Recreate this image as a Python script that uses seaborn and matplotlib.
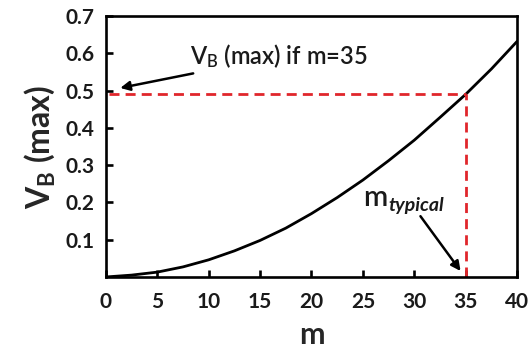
import matplotlib
matplotlib.use("Agg")
import matplotlib.pyplot as plt
import seaborn as sns
import pandas as pd

# Data
m_values = [0, 2.5, 5, 7.5, 10, 12.5, 15, 17.5, 20, 22.5, 25, 27.5, 30, 32.5, 35, 37.5, 40]
vb_max = [0.000, 0.005, 0.013, 0.027, 0.046, 0.070, 0.098, 0.131, 0.170, 0.213,
          0.260, 0.312, 0.367, 0.428, 0.490, 0.558, 0.632]
m_typical = 35
vb_at_typical = 0.490
x_ticks = [0, 5, 10, 15, 20, 25, 30, 35, 40]
y_ticks = [0.1, 0.2, 0.3, 0.4, 0.5, 0.6, 0.7]

sns.set_theme(style="ticks")
plt.rcParams['font.family'] = ['Lato', 'DejaVu Sans']
plt.rcParams['mathtext.fontset'] = 'custom'
plt.rcParams['mathtext.rm'] = 'Lato'
plt.rcParams['mathtext.it'] = 'Lato:italic'
plt.rcParams['mathtext.bf'] = 'Lato:bold'

df = pd.DataFrame({"m": m_values, "vb": vb_max})

fig = plt.figure(figsize=(5.32, 3.56), dpi=100)
ax = fig.add_axes([0.199, 0.222, 0.773, 0.733])

sns.lineplot(data=df, x="m", y="vb", ax=ax, color="black", linewidth=2.0)

red = "#e0262b"
ax.plot([0.3, m_typical], [vb_at_typical, vb_at_typical], color=red, lw=2.0,
        dashes=(3.6, 2.2))
ax.plot([m_typical, m_typical], [0, vb_at_typical], color=red, lw=2.0,
        dashes=(3.6, 2.2))

ax.set_xlim(0, 40)
ax.set_ylim(0, 0.7)
ax.set_xticks(x_ticks)
ax.set_xticklabels([str(t) for t in x_ticks])
ax.set_yticks(y_ticks)
ax.set_yticklabels([f"{t:.1f}" for t in y_ticks])

for s in ax.spines.values():
    s.set_visible(True)
    s.set_linewidth(1.9)
    s.set_color("black")

ax.tick_params(axis="both", direction="in", length=5, width=1.9, colors="black",
               labelsize=15, top=False, right=False)
ax.tick_params(axis="x", pad=11)
ax.tick_params(axis="y", pad=8)
for lbl in ax.get_xticklabels() + ax.get_yticklabels():
    lbl.set_fontweight("bold")
    lbl.set_color("#1a1a1a")

ax.set_xlabel("m", fontsize=22, fontweight="bold", labelpad=6)
ax.set_ylabel(r"V$_\mathregular{B}$ (max)", fontsize=23, fontweight="bold", labelpad=6)

# Annotation: V_B (max) if m=35
ax.annotate(r"V$_\mathregular{B}$ (max) if m=35", xy=(1.4, 0.507), xytext=(8.2, 0.592),
            fontsize=17, fontweight="semibold", va="center", ha="left", color="#1a1a1a",
            arrowprops=dict(arrowstyle="-|>", color="black", lw=1.8,
                            mutation_scale=14, shrinkA=0, shrinkB=0))

# Annotation: m_typical
ax.text(25.0, 0.19, "m", fontsize=21, fontweight="semibold", ha="left", va="baseline",
        color="#1a1a1a")
ax.text(27.5, 0.176, "typical", fontsize=14, ha="left", va="baseline",
        style="italic", fontweight="bold", color="#1a1a1a")
ax.annotate("", xy=(34.5, 0.016), xytext=(30.6, 0.163),
            arrowprops=dict(arrowstyle="-|>", color="black", lw=1.8,
                            mutation_scale=14, shrinkA=0, shrinkB=0))

fig.savefig("out.png", dpi=100)
